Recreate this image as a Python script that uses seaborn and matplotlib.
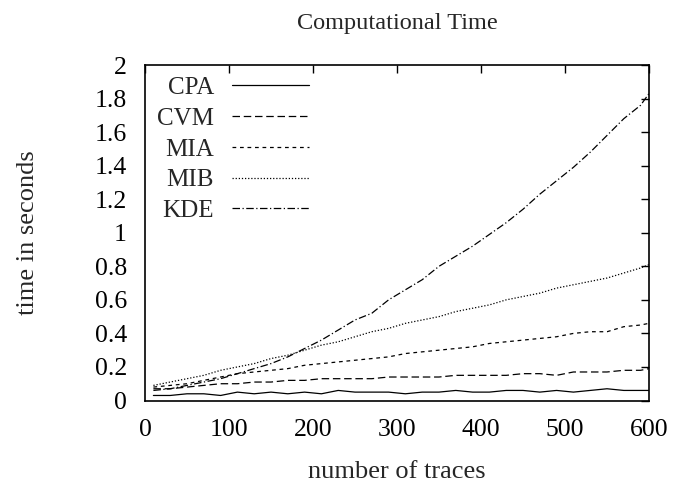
import numpy as np
import pandas as pd
import seaborn as sns
import matplotlib
matplotlib.use("Agg")
import matplotlib.pyplot as plt

traces = [10, 30, 50, 70, 90, 110, 130, 150, 170, 190, 210, 230, 250, 270, 290,
          310, 330, 350, 370, 390, 410, 430, 450, 470, 490, 510, 530, 550, 570, 590, 600]
cpa = [0.03, 0.03, 0.04, 0.04, 0.03, 0.05, 0.04, 0.05, 0.04, 0.05, 0.04, 0.06, 0.05, 0.05, 0.05,
       0.04, 0.05, 0.05, 0.06, 0.05, 0.05, 0.06, 0.06, 0.05, 0.06, 0.05, 0.06, 0.07, 0.06, 0.06, 0.06]
cvm = [0.07, 0.07, 0.08, 0.09, 0.10, 0.10, 0.11, 0.11, 0.12, 0.12, 0.13, 0.13, 0.13, 0.13, 0.14,
       0.14, 0.14, 0.14, 0.15, 0.15, 0.15, 0.15, 0.16, 0.16, 0.15, 0.17, 0.17, 0.17, 0.18, 0.18, 0.19]
mia = [0.08, 0.09, 0.10, 0.12, 0.14, 0.16, 0.17, 0.18, 0.19, 0.21, 0.22, 0.23, 0.24, 0.25, 0.26,
       0.28, 0.29, 0.30, 0.31, 0.32, 0.34, 0.35, 0.36, 0.37, 0.38, 0.40, 0.41, 0.41, 0.44, 0.45, 0.46]
mib = [0.09, 0.11, 0.13, 0.15, 0.18, 0.20, 0.22, 0.25, 0.27, 0.30, 0.33, 0.35, 0.38, 0.41, 0.43,
       0.46, 0.48, 0.50, 0.53, 0.55, 0.57, 0.60, 0.62, 0.64, 0.67, 0.69, 0.71, 0.73, 0.76, 0.79, 0.81]
kde = [0.06, 0.07, 0.09, 0.11, 0.13, 0.16, 0.19, 0.22, 0.26, 0.31, 0.36, 0.42, 0.48, 0.52, 0.60,
       0.66, 0.72, 0.80, 0.86, 0.92, 0.99, 1.06, 1.14, 1.23, 1.31, 1.39, 1.48, 1.58, 1.68, 1.76, 1.83]

series_names = ["CPA", "CVM", "MIA", "MIB", "KDE"]
series_vals = [cpa, cvm, mia, mib, kde]

df = pd.concat([pd.DataFrame({"traces": traces, "time": v, "method": n})
                for n, v in zip(series_names, series_vals)], ignore_index=True)

sns.set_theme(style="white")
plt.rcParams["font.family"] = ["Liberation Serif", "DejaVu Serif"]

FS_TICK = 18.5
FS_LABEL = 19
FS_TITLE = 17.5
FS_LEG = 18

fig = plt.figure(figsize=(6.75, 4.83), dpi=100)
ax = fig.add_axes([145/675, 1 - 400.5/483, (649-145)/675, (400.5-65)/483])

dashes = {"CPA": "", "CVM": (6, 3), "MIA": (3, 3), "MIB": (1, 1.5), "KDE": (6, 2, 1, 2)}
sns.lineplot(data=df, x="traces", y="time", style="method", dashes=dashes,
             color="black", linewidth=0.9, ax=ax, legend=True)

ax.set_xlim(0, 600)
ax.set_ylim(0, 2)
ax.set_xticks([0, 100, 200, 300, 400, 500, 600])
ax.set_yticks([0, 0.2, 0.4, 0.6, 0.8, 1, 1.2, 1.4, 1.6, 1.8, 2])
ax.set_yticklabels(["0", "0.2", "0.4", "0.6", "0.8", "1", "1.2", "1.4", "1.6", "1.8", "2"])
ax.tick_params(direction="in", length=6, width=1, top=True, right=True,
               labelsize=FS_TICK, colors="black")
ax.tick_params(axis="y", pad=13)
ax.tick_params(axis="x", pad=13)
for s in ax.spines.values():
    s.set_color("black")
    s.set_linewidth(1.2)

ax.set_xlabel("number of traces", fontsize=FS_LABEL, labelpad=15)
ax.set_ylabel("time in seconds", fontsize=FS_LABEL, labelpad=40)
ax.set_title("Computational Time", fontsize=FS_TITLE, pad=26)

leg = ax.legend(loc="upper left", frameon=False, markerfirst=False, fontsize=FS_LEG,
                handlelength=3.1, handletextpad=0.7, labelspacing=0.33,
                bbox_to_anchor=(0.004, 0.995), borderaxespad=0.0, borderpad=0.4)
for t in leg.get_texts():
    t.set_ha("right")
for h in leg.legend_handles:
    h.set_color("black")
    h.set_linewidth(0.9)

fig.savefig("out.png", dpi=100)
